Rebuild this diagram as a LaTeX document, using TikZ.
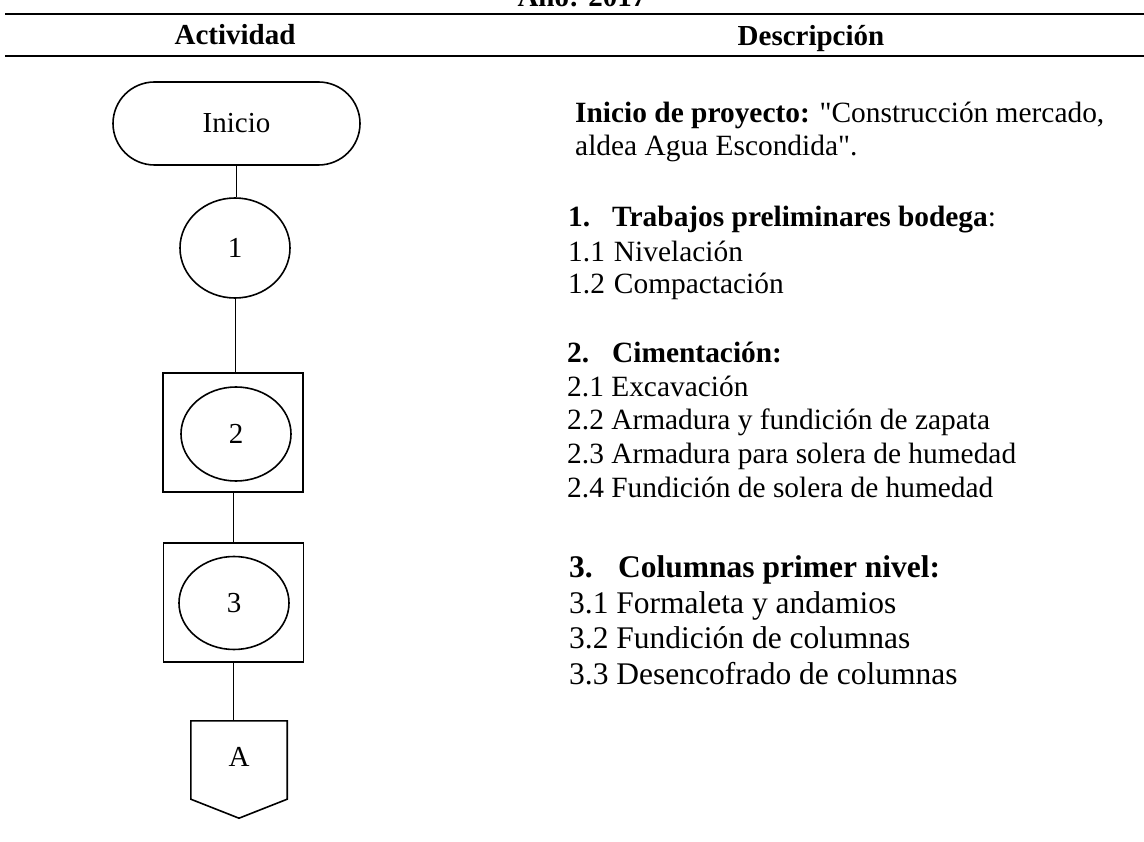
\documentclass[tikz,border=0pt]{standalone}
\usepackage{fontspec}
\setmainfont{Liberation Serif}
\usetikzlibrary{shapes.geometric,calc}
\newcommand{\sq}{\XeTeXglyph\XeTeXcharglyph"22\relax}
\begin{document}
\begin{tikzpicture}[x=1pt,y=-1pt,
  shapeline/.style={line width=1.6pt},
  conn/.style={line width=1pt},
  rulebar/.style={line width=1.8pt},
  hdr/.style={anchor=base, inner sep=0, font=\fontsize{29}{33}\selectfont\bfseries},
  txt/.style={anchor=base west, inner sep=0, font=\fontsize{29.4}{33}\selectfont},
  txtbig/.style={anchor=base west, inner sep=0, font=\fontsize{31.5}{36}\selectfont},
  lbl/.style={font=\fontsize{29}{33}\selectfont, inner sep=0},
  term/.style={lbl, shapeline, draw, rectangle, rounded corners=41.5pt, minimum width=247pt, minimum height=83pt},
  ell/.style={lbl, shapeline, draw, ellipse, minimum width=110pt, minimum height=100pt},
  sqbox/.style={shapeline, draw, rectangle, minimum width=140pt, minimum height=119pt, inner sep=0},
  offpage/.style={lbl, rectangle, minimum width=96pt, minimum height=78pt}
]
\useasboundingbox (0,0) rectangle (1144,842);
\clip (0,0) rectangle (1144,842);
\fill[white] (0,0) rectangle (1144,842);

% header
\node[hdr] (anio) at (582,7) {Año: 2017};
\draw[rulebar] (5,14) -- (1144,14);
\node[hdr] (act) at (235,45) {Actividad};
\node[hdr] (desc) at (811,46) {Descripción};
\draw[rulebar] (5,56) -- (1144,56);

% flow column
\node[term] (inicio) at (236.5,123.5) {Inicio};
\node[ell] (n1) at (235,248) {1};
\node[sqbox] (b2) at (233,432.5) {};
\node[ell, minimum height=94pt] (n2) at (236,434) {2};
\node[sqbox] (b3) at (233.5,602.5) {};
\node[ell, minimum height=93pt] (n3) at (234,603) {3};
\node[offpage] (pA) at (239,760) {\raisebox{7pt}{A}};
\draw[shapeline] (pA.north west) -- (pA.south west) -- ($(pA.south)+(0,19)$) -- (pA.south east) -- (pA.north east) -- cycle;

\draw[conn] (inicio.south) -- (inicio.south |- n1.north);
\draw[conn] (n1.south) -- (n1.south |- b2.north);
\draw[conn] (b2.south) -- (b2.south |- b3.north);
\draw[conn] (b3.south) -- (b3.south |- pA.north);

% description column
\node[txt] (t0) at (575,123) {\textbf{Inicio de proyecto:} \sq Construcción mercado,};
\node[txt] (t1) at (575,156) {aldea Agua Escondida\sq.};
\node[txt] (t2) at (568,227) {\makebox[44pt][l]{\textbf{1.}}\textbf{Trabajos preliminares bodega}:};
\node[txt] (t3) at (568,262) {1.1\hspace{9pt}Nivelación};
\node[txt] (t4) at (568,294) {1.2\hspace{9pt}Compactación};
\node[txt] (t5) at (567,363) {\makebox[45pt][l]{\textbf{2.}}\textbf{Cimentación:}};
\node[txt] (t6) at (567,396) {2.1 Excavación};
\node[txt] (t7) at (567,430) {2.2 Armadura y fundición de zapata};
\node[txt] (t8) at (567,463) {2.3 Armadura para solera de humedad};
\node[txt] (t9) at (567,497) {2.4 Fundición de solera de humedad};
\node[txtbig] (t10) at (569,577) {\makebox[49pt][l]{\textbf{3.}}\textbf{Columnas primer nivel:}};
\node[txtbig] (t11) at (569,613) {3.1 Formaleta y andamios};
\node[txtbig] (t12) at (569,648) {3.2 Fundición de columnas};
\node[txtbig] (t13) at (569,684) {3.3 Desencofrado de columnas};
\end{tikzpicture}
\end{document}
